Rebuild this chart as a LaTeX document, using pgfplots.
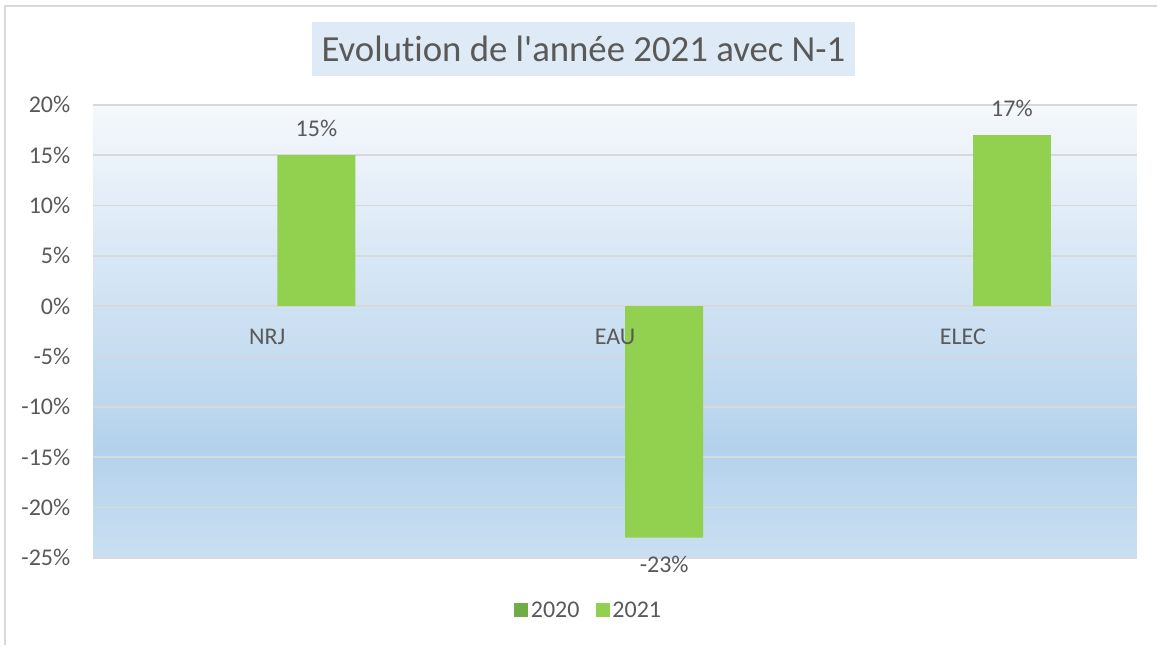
\documentclass[border=0pt]{standalone}
\usepackage{fontspec}
\setmainfont{Carlito}[Ligatures={TeX,NoCommon}]
\usepackage{pgfplots}
\pgfplotsset{compat=1.18}
\definecolor{txt}{HTML}{595959}
\definecolor{gridc}{HTML}{D9D9D9}
\definecolor{gA}{HTML}{70AD47}
\definecolor{gB}{HTML}{92D050}
\definecolor{bgtop}{HTML}{F5F8FC}
\definecolor{bgmid}{HTML}{B4D2EC}
\definecolor{bgbot}{HTML}{CADFF1}
\definecolor{titlebg}{HTML}{DEEAF6}
\pgfdeclareverticalshading{plotbg}{100bp}{color(0bp)=(bgbot); color(25bp)=(bgbot); color(37bp)=(bgmid); color(75bp)=(bgtop); color(100bp)=(bgtop)}
\pgfplotsset{common/.style={
  scale only axis, width=1044.2pt, height=453.3pt,
  xmin=-0.5, xmax=2.5, ymin=-25, ymax=20,
  axis line style={draw=none},
  major tick length=0pt,
  tick label style={font=\fontsize{24}{29}\selectfont, text=txt}}}
\begin{document}
\begin{tikzpicture}
\fill[white] (-93.5pt,-87.7pt) rectangle (1064.5pt,558.3pt);
\begin{axis}[
  common,
  xtick={0,1,2}, xticklabels={},
  ytick={-25,-20,-15,-10,-5,0,5,10,15,20},
  yticklabels={-25\%,-20\%,-15\%,-10\%,-5\%,0\%,5\%,10\%,15\%,20\%},
  ymajorgrids, grid style={gridc, line width=1.5pt},
  axis background/.style={shading=plotbg},
  yticklabel style={inner sep=0pt, anchor=east, xshift=-23pt},
  ybar=20.4pt, bar width=78pt,
  legend style={at={(0.475,-0.116)}, anchor=center, legend columns=-1,
    draw=none, fill=none, font=\fontsize{24}{29}\selectfont, text=txt,
    /tikz/every even column/.append style={column sep=14pt},
    nodes={inner xsep=2.5pt, inner ysep=0pt}},
]
\addplot[fill=none, draw=none,
  legend image code/.code={\fill[gA] (0pt,-7pt) rectangle (14pt,7pt);}]
  coordinates {(0,0) (1,0) (2,0)};
\addlegendentry{2020}
\addplot[fill=gB, draw=none,
  point meta=y,
  nodes near coords={\pgfmathprintnumber[assume math mode=true]{\pgfplotspointmeta}\%},
  every node near coord/.append style={font=\fontsize{24}{29}\selectfont, text=txt, inner xsep=0pt, inner ysep=18pt},
  legend image code/.code={\fill[gB] (0pt,-7pt) rectangle (14pt,7pt);}]
  coordinates {(0,15) (1,-23) (2,17)};
\addlegendentry{2021}
\end{axis}
% overlay axis carrying the category tick labels, drawn above the bars
\begin{axis}[
  common,
  xtick={0,1,2}, xticklabels={NRJ,EAU,ELEC},
  ytick=\empty,
  xticklabel style={inner sep=0pt, anchor=base, yshift=213.3pt},
]
\end{axis}
\node[fill=titlebg, text=txt, font=\fontsize{36.8}{44}\selectfont, inner xsep=10pt, minimum height=54pt] at (490.5pt,509.3pt) {Evolution de l\textquotesingle ann\'ee 2021 avec N-1};
\draw[gridc, line width=2pt] (-88.5pt,-87.7pt) -- (-88.5pt,552.3pt) -- (1064.5pt,552.3pt);
\path[use as bounding box] (-93.5pt,-87.7pt) rectangle (1064.5pt,558.3pt);
\end{tikzpicture}
\end{document}
